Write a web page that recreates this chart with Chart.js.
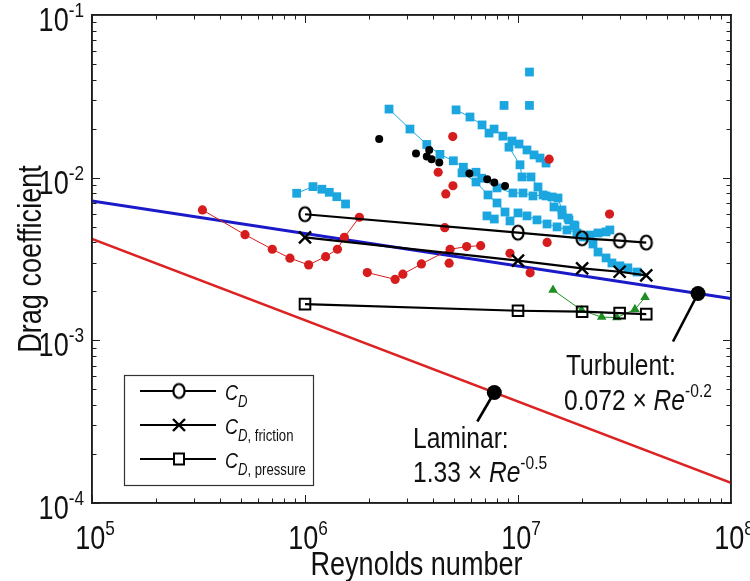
<!DOCTYPE html>
<html>
<head>
<meta charset="utf-8">
<script src="https://cdn.jsdelivr.net/npm/chart.js@4.4.1/dist/chart.umd.min.js"></script>
<style>
html,body{margin:0;padding:0;background:#fff;overflow:hidden;}
#c{display:block;}
</style>
</head>
<body>
<canvas id="c" width="750" height="581"></canvas>
<script>
// ---------- axis ticks ----------
const xTickValues = [1e5, 1e6, 1e7, 1e8];
const xTickExponents = ['5', '6', '7', '8'];
const yTickValues = [1e-4, 1e-3, 1e-2, 1e-1];
const yTickExponents = ['-4', '-3', '-2', '-1'];

// ---------- theory lines (end points) ----------
const laminarRe = [1e5, 1e8];
const laminarCd = [4.2e-3, 1.33e-4];
const turbulentRe = [1e5, 1e8];
const turbulentCd = [7.2e-3, 1.81e-3];
const markRe = [7.74e6, 7.0e7];
const markCd = [4.78e-4, 1.94e-3];

// ---------- CFD results ----------
const cfdRe = [1e6, 1e7, 2e7, 3e7, 4e7];
const cdTotal = [5.96e-3, 4.59e-3, 4.24e-3, 4.10e-3, 3.99e-3];
const cdFriction = [4.30e-3, 3.09e-3, 2.77e-3, 2.64e-3, 2.51e-3];
const cdPressure = [1.67e-3, 1.52e-3, 1.50e-3, 1.47e-3, 1.45e-3];

// ---------- experimental data: red ----------
const redARe = [3.30e5, 5.23e5, 7.02e5, 8.50e5, 1.04e6, 1.25e6, 1.42e6, 1.53e6, 1.80e6];
const redACd = [6.33e-3, 4.46e-3, 3.63e-3, 3.20e-3, 2.91e-3, 3.27e-3, 3.63e-3, 4.30e-3, 5.71e-3];
const redBRe = [1.96e6, 2.65e6, 2.88e6, 3.52e6, 4.80e6, 5.74e6, 6.68e6];
const redBCd = [2.61e-3, 2.37e-3, 2.55e-3, 2.95e-3, 3.63e-3, 3.77e-3, 3.82e-3];
const redCRe = [4.94e6, 4.22e6, 4.95e6, 4.58e6, 4.53e6, 4.75e6, 9.17e6, 1.14e7, 1.37e7, 1.40e7, 2.69e7];
const redCCd = [1.79e-2, 1.08e-2, 8.92e-3, 7.94e-3, 4.93e-3, 2.98e-3, 3.43e-3, 2.60e-3, 4.00e-3, 1.30e-2, 5.97e-3];

// ---------- experimental data: black ----------
const blackRe = [2.23e6, 3.32e6, 3.83e6, 3.73e6, 3.93e6, 4.27e6, 5.91e6, 7.17e6, 7.74e6, 8.69e6];
const blackCd = [1.73e-2, 1.41e-2, 1.48e-2, 1.35e-2, 1.30e-2, 1.24e-2, 1.06e-2, 9.78e-3, 9.34e-3, 8.89e-3];

// ---------- experimental data: green ----------
const greenRe = [1.46e7, 1.99e7, 2.47e7, 2.91e7, 3.54e7, 3.95e7];
const greenCd = [2.04e-3, 1.53e-3, 1.39e-3, 1.38e-3, 1.55e-3, 1.84e-3];

// ---------- experimental data: cyan ----------
const cyanARe = [9.14e5, 1.09e6, 1.20e6, 1.30e6, 1.41e6, 1.55e6];
const cyanACd = [8.02e-3, 8.81e-3, 8.49e-3, 8.13e-3, 7.64e-3, 6.89e-3];
const cyanBRe = [2.48e6, 3.11e6, 3.73e6, 4.30e6, 4.97e6, 5.54e6, 6.35e6, 6.75e6, 7.97e6, 9.47e6, 1.056e7, 1.176e7, 1.311e7, 1.444e7, 1.541e7, 1.609e7, 1.717e7, 1.832e7, 2.02e7, 2.25e7, 2.375e7, 2.59e7, 2.76e7, 3.01e7, 3.28e7, 3.62e7];
const cyanBCd = [2.64e-2, 1.99e-2, 1.60e-2, 1.39e-2, 1.27e-2, 1.16e-2, 1.08e-2, 9.92e-3, 8.65e-3, 8.05e-3, 8.05e-3, 7.72e-3, 7.83e-3, 7.61e-3, 7.50e-3, 6.33e-3, 5.65e-3, 5.12e-3, 4.32e-3, 3.91e-3, 3.49e-3, 3.21e-3, 2.99e-3, 2.87e-3, 2.79e-3, 2.63e-3];
const cyanCRe = [5.12e6, 5.95e6, 6.78e6, 7.31e6, 7.72e6, 8.50e6, 9.37e6, 1.011e7, 1.102e7, 1.189e7, 1.269e7, 1.354e7];
const cyanCCd = [2.61e-2, 2.36e-2, 2.11e-2, 1.88e-2, 1.99e-2, 1.80e-2, 1.68e-2, 1.61e-2, 1.48e-2, 1.38e-2, 1.32e-2, 1.23e-2];
const cyanDRe = [9.07e6, 1.022e7, 1.044e7, 1.151e7, 1.241e7, 1.354e7, 1.476e7, 1.609e7, 1.735e7, 1.852e7];
const cyanDCd = [1.54e-2, 1.20e-2, 1.01e-2, 1.01e-2, 8.77e-3, 7.72e-3, 6.60e-3, 5.90e-3, 5.50e-3, 5.05e-3];
const cyanERe = [5.46e6, 6.35e6, 7.23e6, 7.97e6, 8.69e6, 9.17e6, 1.0e7, 1.102e7, 1.228e7, 1.369e7, 1.525e7, 1.698e7, 1.89e7, 2.18e7, 2.375e7, 2.59e7, 2.70e7];
const cyanECd = [1.07e-2, 9.41e-3, 7.83e-3, 6.99e-3, 6.15e-3, 5.42e-3, 6.07e-3, 5.82e-3, 5.50e-3, 5.19e-3, 4.98e-3, 4.77e-3, 4.57e-3, 4.44e-3, 4.57e-3, 4.64e-3, 4.77e-3];
const cyanLooseRe = [7.15e6, 7.74e6, 8.60e6, 1.132e7, 1.132e7];
const cyanLooseCd = [5.82e-3, 5.57e-3, 2.78e-2, 2.78e-2, 4.46e-2];

// ---------- texts ----------
const xTitle = 'Reynolds number';
const yTitle = 'Drag coefficient';
const legendLabels = [', friction', ', pressure'];

// ---------- styling helpers ----------
const NARROW = 0.82;
const FONT = '"Liberation Sans", Arial, Helvetica, sans-serif';
const TEXT_COLOR = '#111';
const FRAME_COLOR = '#1e1e1e';
const CYAN = '#1ba6e0';
const RED = '#d61c1c';
const GREEN = '#1f8f24';

function pts(re, cd) { return re.map((x, i) => ({ x: x, y: cd[i] })); }

function makeEllipse(rx, ry, lw) {
  const c = document.createElement('canvas');
  c.width = Math.ceil(2 * rx + lw + 2);
  c.height = Math.ceil(2 * ry + lw + 2);
  const g = c.getContext('2d');
  g.strokeStyle = '#000';
  g.lineWidth = lw;
  g.beginPath();
  g.ellipse(c.width / 2, c.height / 2, rx, ry, 0, 0, Math.PI * 2);
  g.stroke();
  return c;
}
const ellipseMarker = makeEllipse(5.6, 7, 2.2);

function fontOf(r) { return (r.italic ? 'italic ' : '') + r.size + 'px ' + FONT; }
function drawRuns(ctx, runs, x, y, align, angle) {
  ctx.save();
  ctx.translate(x, y);
  if (angle) ctx.rotate(angle);
  ctx.scale(NARROW, 1);
  ctx.textBaseline = 'alphabetic';
  ctx.textAlign = 'left';
  ctx.fillStyle = TEXT_COLOR;
  let w = 0;
  runs.forEach(r => { ctx.font = fontOf(r); w += ctx.measureText(r.t).width; });
  let cx = align === 'center' ? -w / 2 : (align === 'right' ? -w : 0);
  runs.forEach(r => { ctx.font = fontOf(r); ctx.fillText(r.t, cx, r.dy || 0); cx += ctx.measureText(r.t).width; });
  ctx.restore();
}
function seg(ctx, x1, y1, x2, y2) { ctx.beginPath(); ctx.moveTo(x1, y1); ctx.lineTo(x2, y2); ctx.stroke(); }

// ---------- decoration plugin ----------
const decor = {
  id: 'decor',
  afterDraw(chart) {
    const ctx = chart.ctx, area = chart.chartArea, xs = chart.scales.x, ys = chart.scales.y;
    const L0 = area.left, T0 = area.top, R0 = area.right, B0 = area.bottom;
    ctx.save();
    // tick labels
    xTickValues.forEach((v, i) => {
      const px = xs.getPixelForValue(v);
      drawRuns(ctx, [{ t: '10', size: 33 }, { t: xTickExponents[i], size: 21, dy: -14 }], px + 3, B0 + 46, 'center');
    });
    yTickValues.forEach((v, i) => {
      const py = ys.getPixelForValue(v);
      drawRuns(ctx, [{ t: '10', size: 33 }, { t: yTickExponents[i], size: 21, dy: -14 }], L0 - 8, py + 16, 'right');
    });
    // axis titles
    drawRuns(ctx, [{ t: xTitle, size: 33 }], (L0 + R0) / 2 + 5, 575, 'center');
    drawRuns(ctx, [{ t: yTitle, size: 33 }], 41, (T0 + B0) / 2, 'center', -Math.PI / 2);

    // annotation leader lines
    ctx.strokeStyle = '#000';
    ctx.lineWidth = 2.6;
    const lx = xs.getPixelForValue(markRe[0]), ly = ys.getPixelForValue(markCd[0]);
    seg(ctx, lx, ly, lx - 17, ly + 29);
    const tx = xs.getPixelForValue(markRe[1]), ty = ys.getPixelForValue(markCd[1]);
    seg(ctx, tx, ty, tx - 25, ty + 48);
    // annotation texts
    drawRuns(ctx, [{ t: 'Laminar:', size: 30 }], 413, 448, 'left');
    drawRuns(ctx, [{ t: '1.33 × ', size: 30 }, { t: 'Re', size: 30, italic: true }, { t: '-0.5', size: 19, dy: -13 }], 413, 482, 'left');
    drawRuns(ctx, [{ t: 'Turbulent:', size: 30 }], 566, 375, 'left');
    drawRuns(ctx, [{ t: '0.072 × ', size: 30 }, { t: 'Re', size: 30, italic: true }, { t: '-0.2', size: 19, dy: -13 }], 564, 410, 'left');

    // legend
    const bx = 124.5, by = 375.5, bw = 189, bh = 110;
    ctx.fillStyle = '#fff';
    ctx.fillRect(bx, by, bw, bh);
    ctx.strokeStyle = '#333';
    ctx.lineWidth = 1.2;
    ctx.strokeRect(bx, by, bw, bh);
    const rows = [391, 425, 459];
    rows.forEach((ry, i) => {
      ctx.strokeStyle = '#000';
      ctx.lineWidth = 2.2;
      seg(ctx, 140, ry, 216, ry);
      const mx = 179;
      if (i === 0) {
        ctx.fillStyle = '#fff';
        ctx.beginPath(); ctx.ellipse(mx, ry, 5.6, 7, 0, 0, Math.PI * 2); ctx.fill();
        ctx.drawImage(ellipseMarker, mx - ellipseMarker.width / 2, ry - ellipseMarker.height / 2);
      } else if (i === 1) {
        ctx.lineWidth = 2.4;
        seg(ctx, mx - 6, ry - 6, mx + 6, ry + 6);
        seg(ctx, mx - 6, ry + 6, mx + 6, ry - 6);
      } else {
        ctx.fillStyle = '#fff';
        ctx.fillRect(mx - 5, ry - 5.5, 10, 11);
        ctx.lineWidth = 2;
        ctx.strokeRect(mx - 5, ry - 5.5, 10, 11);
      }
      const runs = [{ t: 'C', size: 22, italic: true }, { t: 'D', size: 16, italic: true, dy: 7 }];
      if (i > 0) runs.push({ t: legendLabels[i - 1], size: 16, dy: 7 });
      drawRuns(ctx, runs, 225, ry + 9, 'left');
    });

    // frame and inward ticks, drawn last
    ctx.strokeStyle = FRAME_COLOR;
    ctx.lineWidth = 1.5;
    ctx.strokeRect(L0, T0, R0 - L0, B0 - T0);
    ctx.lineWidth = 1;
    for (let e = 5; e < 8; e++) {
      for (let m = 1; m < 10; m++) {
        const px = Math.round(xs.getPixelForValue(m * Math.pow(10, e))) + 0.5;
        const len = m === 1 ? 8 : 4.5;
        seg(ctx, px, B0, px, B0 - len);
        seg(ctx, px, T0, px, T0 + len);
      }
    }
    for (let e = -4; e < -1; e++) {
      for (let m = 1; m < 10; m++) {
        const py = Math.round(ys.getPixelForValue(m * Math.pow(10, e))) + 0.5;
        const len = m === 1 ? 8 : 4.5;
        seg(ctx, L0, py, L0 + len, py);
        seg(ctx, R0, py, R0 - len, py);
      }
    }
    ctx.restore();
  }
};

const thinLine = { showLine: true, borderWidth: 1 };
const datasets = [
  { label: 'marks', data: pts(markRe, markCd), pointRadius: 7.5, pointBackgroundColor: '#000', pointBorderWidth: 0, showLine: false, order: 0 },
  { label: 'CD', data: pts(cfdRe, cdTotal), showLine: true, borderColor: '#000', borderWidth: 2.2, pointStyle: ellipseMarker, pointRadius: 7, order: 1 },
  { label: 'CD friction', data: pts(cfdRe, cdFriction), showLine: true, borderColor: '#000', borderWidth: 2.2, pointStyle: 'crossRot', pointRadius: 8.5, pointBorderColor: '#000', pointBorderWidth: 2.4, order: 1 },
  { label: 'CD pressure', data: pts(cfdRe, cdPressure), showLine: true, borderColor: '#000', borderWidth: 2.2, pointStyle: 'rect', pointRadius: 7.5, pointBorderColor: '#000', pointBackgroundColor: 'rgba(255,255,255,0)', pointBorderWidth: 2, order: 1 },
  Object.assign({ label: 'green', data: pts(greenRe, greenCd), borderColor: GREEN, pointStyle: 'triangle', pointRadius: 5.5, pointBackgroundColor: GREEN, pointBorderWidth: 0, order: 2 }, thinLine),
  { label: 'black', data: pts(blackRe, blackCd), showLine: false, pointStyle: 'circle', pointRadius: 4, pointBackgroundColor: '#000', pointBorderWidth: 0, order: 2 },
  Object.assign({ label: 'redA', data: pts(redARe, redACd), borderColor: RED, pointStyle: 'circle', pointRadius: 4.6, pointBackgroundColor: RED, pointBorderWidth: 0, order: 2 }, thinLine),
  Object.assign({ label: 'redB', data: pts(redBRe, redBCd), borderColor: RED, pointStyle: 'circle', pointRadius: 4.6, pointBackgroundColor: RED, pointBorderWidth: 0, order: 2 }, thinLine),
  { label: 'redC', data: pts(redCRe, redCCd), showLine: false, pointStyle: 'circle', pointRadius: 4.6, pointBackgroundColor: RED, pointBorderWidth: 0, order: 2 },
  Object.assign({ label: 'cyanA', data: pts(cyanARe, cyanACd), borderColor: CYAN, pointStyle: 'rect', pointRadius: 6.2, pointBackgroundColor: CYAN, pointBorderWidth: 0, order: 3 }, thinLine),
  Object.assign({ label: 'cyanB', data: pts(cyanBRe, cyanBCd), borderColor: CYAN, pointStyle: 'rect', pointRadius: 6.2, pointBackgroundColor: CYAN, pointBorderWidth: 0, order: 3 }, thinLine),
  Object.assign({ label: 'cyanC', data: pts(cyanCRe, cyanCCd), borderColor: CYAN, pointStyle: 'rect', pointRadius: 6.2, pointBackgroundColor: CYAN, pointBorderWidth: 0, order: 3 }, thinLine),
  Object.assign({ label: 'cyanD', data: pts(cyanDRe, cyanDCd), borderColor: CYAN, pointStyle: 'rect', pointRadius: 6.2, pointBackgroundColor: CYAN, pointBorderWidth: 0, order: 3 }, thinLine),
  Object.assign({ label: 'cyanE', data: pts(cyanERe, cyanECd), borderColor: CYAN, pointStyle: 'rect', pointRadius: 6.2, pointBackgroundColor: CYAN, pointBorderWidth: 0, order: 3 }, thinLine),
  { label: 'cyanLoose', data: pts(cyanLooseRe, cyanLooseCd), showLine: false, pointStyle: 'rect', pointRadius: 6.2, pointBackgroundColor: CYAN, pointBorderWidth: 0, order: 3 },
  { label: 'turbulent', data: pts(turbulentRe, turbulentCd), showLine: true, borderColor: '#1a1ac8', borderWidth: 3, pointRadius: 0, order: 4 },
  { label: 'laminar', data: pts(laminarRe, laminarCd), showLine: true, borderColor: '#dc2222', borderWidth: 2.6, pointRadius: 0, order: 4 }
];

// axes: native borders form the box (no reserved tick space); ticks/labels drawn by the plugin
function frameAxis(position, min, max) {
  return {
    type: 'logarithmic', position: position, min: min, max: max, display: true,
    grid: { display: false, drawTicks: false, tickLength: 0 }, ticks: { display: false, padding: 0 },
    border: { display: true, color: FRAME_COLOR, width: 1.5 }
  };
}

new Chart(document.getElementById('c'), {
  type: 'scatter',
  data: { datasets: datasets },
  options: {
    responsive: false,
    animation: false,
    devicePixelRatio: 1,
    layout: { padding: { left: 92, right: 19, top: 15, bottom: 78 } },
    plugins: { legend: { display: false }, tooltip: { enabled: false } },
    scales: {
      x: frameAxis('bottom', 1e5, 1e8),
      xTop: frameAxis('top', 1e5, 1e8),
      y: frameAxis('left', 1e-4, 1e-1),
      yRight: frameAxis('right', 1e-4, 1e-1)
    }
  },
  plugins: [decor]
});
</script>
</body>
</html>
